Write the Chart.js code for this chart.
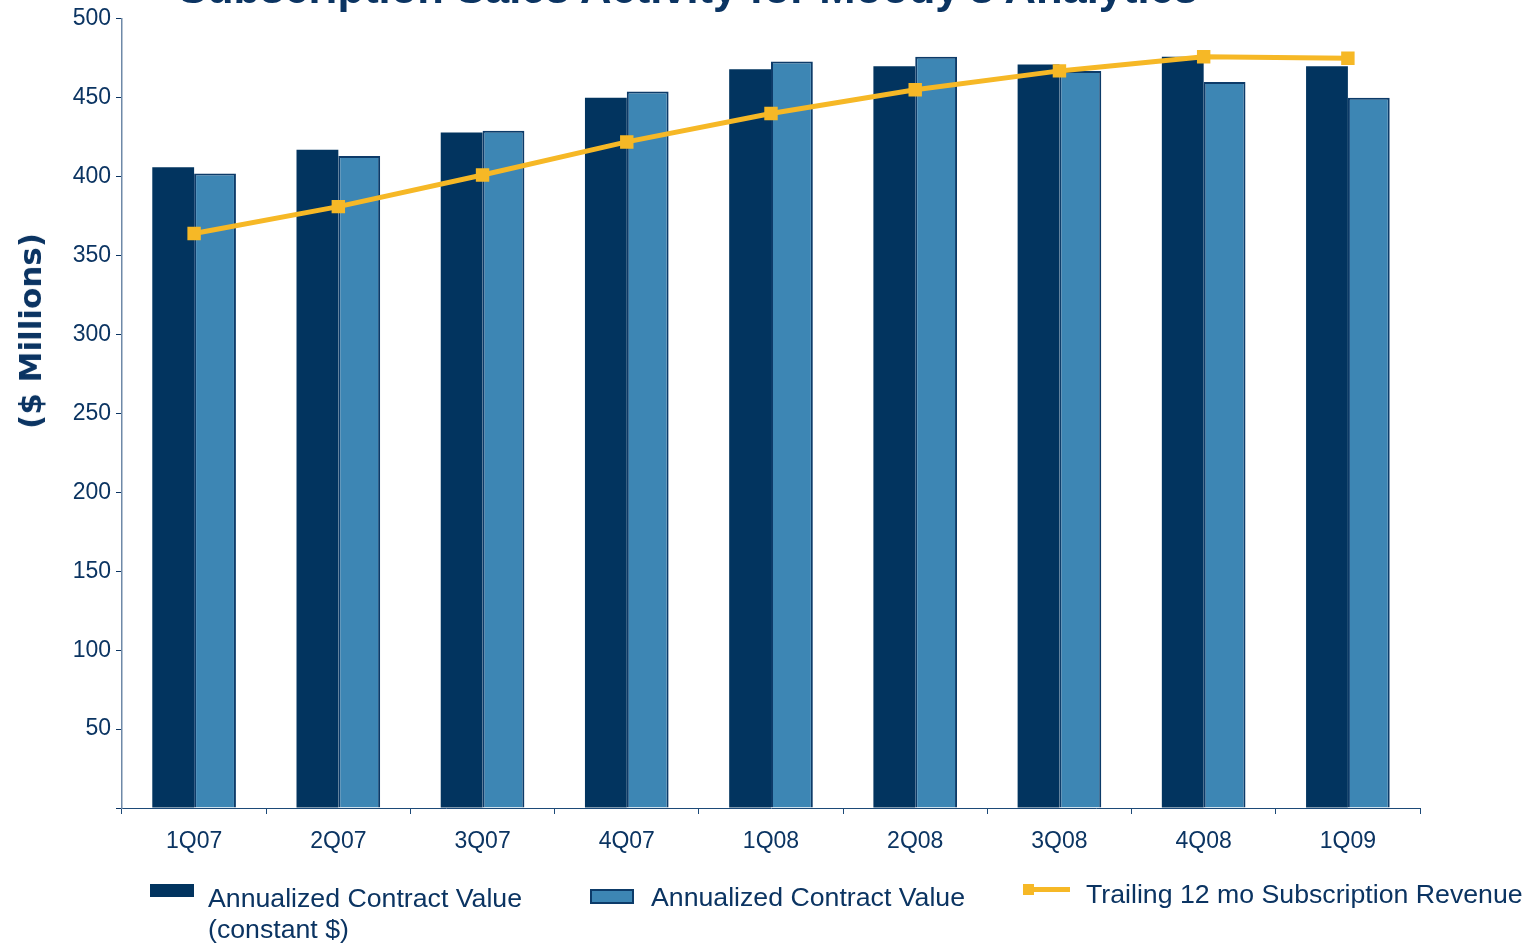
<!DOCTYPE html>
<html>
<head>
<meta charset="utf-8">
<script src="https://cdn.jsdelivr.net/npm/chart.js@4.4.1/dist/chart.umd.min.js"></script>
<style>
  html, body { margin: 0; padding: 0; background: #ffffff; overflow: hidden; }
  #wrap { position: relative; width: 1530px; height: 945px; overflow: hidden; }
  #c { position: absolute; left: 0; top: 0; }
  #title { position: absolute; left: 178px; top: -33px; font: bold 43.5px "Liberation Sans", Arial, sans-serif; color: #0b3462; white-space: nowrap; line-height: 43px; }
  #ytitle { position: absolute; left: 30px; top: 331px; transform: translate(-50%, -50%) rotate(-90deg); font: bold 31px "DejaVu Sans", sans-serif; color: #0b3462; white-space: nowrap; line-height: 34px; }
  .lg { position: absolute; font: 26.7px "Liberation Sans", Arial, sans-serif; color: #0b3462; line-height: 31px; white-space: nowrap; }
  .sw { position: absolute; }
</style>
</head>
<body>
<div id="wrap">
  <canvas id="c" width="1530" height="945"></canvas>
  <div id="title">Subscription Sales Activity for Moody's Analytics</div>
  <div id="ytitle">($ Millions)</div>
  <div id="legend"></div>
</div>
<script>
const categories = ['1Q07', '2Q07', '3Q07', '4Q07', '1Q08', '2Q08', '3Q08', '4Q08', '1Q09'];
const acvConstant = [406, 417, 428, 450, 468, 470, 471, 476, 470];
const acv = [402, 413, 429, 454, 473, 476, 467, 460, 450];
const trailingRevenue = [364, 381, 401, 422, 440, 455, 467, 476, 475];
const yTicks = [0, 50, 100, 150, 200, 250, 300, 350, 400, 450, 500];
const seriesLabels = ['Annualized Contract Value (constant $)', 'Annualized Contract Value', 'Trailing 12 mo Subscription Revenue'];

const NAVY = '#0b3462';
const DARK = '#02345f';
const LIGHT = '#3d86b4';
const GOLD = '#f6b826';

const chart = new Chart(document.getElementById('c'), {
  data: {
    labels: categories,
    datasets: [
      {
        type: 'line', label: seriesLabels[2], data: trailingRevenue, order: 0,
        borderColor: GOLD, backgroundColor: GOLD, borderWidth: 5,
        pointStyle: 'rect', pointRadius: 9.5, pointBorderWidth: 0, pointBackgroundColor: GOLD,
        tension: 0
      },
      {
        type: 'bar', label: seriesLabels[0], data: acvConstant, order: 1,
        backgroundColor: DARK, borderWidth: 0,
        categoryPercentage: 0.58, barPercentage: 1.0
      },
      {
        type: 'bar', label: seriesLabels[1], data: acv, order: 1,
        backgroundColor: LIGHT, borderColor: '#0d3b69', borderWidth: 2,
        categoryPercentage: 0.58, barPercentage: 1.0
      }
    ]
  },
  options: {
    responsive: false,
    animation: false,
    layout: { padding: { top: 16, right: 110, bottom: 0, left: 0 } },
    plugins: { legend: { display: false }, title: { display: false }, tooltip: { enabled: false } },
    scales: {
      x: {
        offset: true,
        grid: { offset: true, drawOnChartArea: false, drawTicks: true, tickLength: 6, color: '#1d4a78', lineWidth: 1 },
        border: { display: true, color: '#1d4a78', width: 1 },
        ticks: { color: NAVY, font: { family: '"Liberation Sans", Arial, sans-serif', size: 23 }, padding: 14, maxRotation: 0 },
        afterFit: (s) => { s.height = 137; }
      },
      y: {
        min: 0, max: 500,
        afterBuildTicks: (s) => { s.ticks = yTicks.map(v => ({ value: v })); },
        grid: { drawOnChartArea: false, drawTicks: true, tickLength: 6, color: NAVY, lineWidth: 1 },
        border: { display: true, color: '#6e89a8', width: 1.5 },
        ticks: { color: NAVY, font: { family: '"Liberation Sans", Arial, sans-serif', size: 23 }, padding: 5,
                 callback: (v) => v === 0 ? '' : String(v) },
        title: { display: false },
        afterFit: (s) => { s.width = 122; }
      }
    }
  }
});

// HTML legend built from datasets
const lg = document.getElementById('legend');
const ds = chart.data.datasets;
function addText(html, left, top) {
  const d = document.createElement('div'); d.className = 'lg'; d.style.left = left + 'px'; d.style.top = top + 'px'; d.innerHTML = html; lg.appendChild(d);
}
function addSw(left, top, w, h, bg, border) {
  const d = document.createElement('div'); d.className = 'sw';
  d.style.left = left + 'px'; d.style.top = top + 'px'; d.style.width = w + 'px'; d.style.height = h + 'px';
  d.style.background = bg; if (border) { d.style.boxSizing = 'border-box'; d.style.border = border; }
  lg.appendChild(d);
}
// item 1
addSw(150, 884, 44, 13, ds[1].backgroundColor);
addText(ds[1].label.replace(' (', '<br>('), 208, 883);
// item 2
addSw(590, 889, 44, 15, ds[2].backgroundColor, '2px solid ' + ds[2].borderColor);
addText(ds[2].label, 651, 882);
// item 3
addSw(1023, 887, 47, 5, ds[0].borderColor);
addSw(1023, 884, 11, 11, ds[0].borderColor);
addText(ds[0].label, 1086, 879);
</script>
</body>
</html>
